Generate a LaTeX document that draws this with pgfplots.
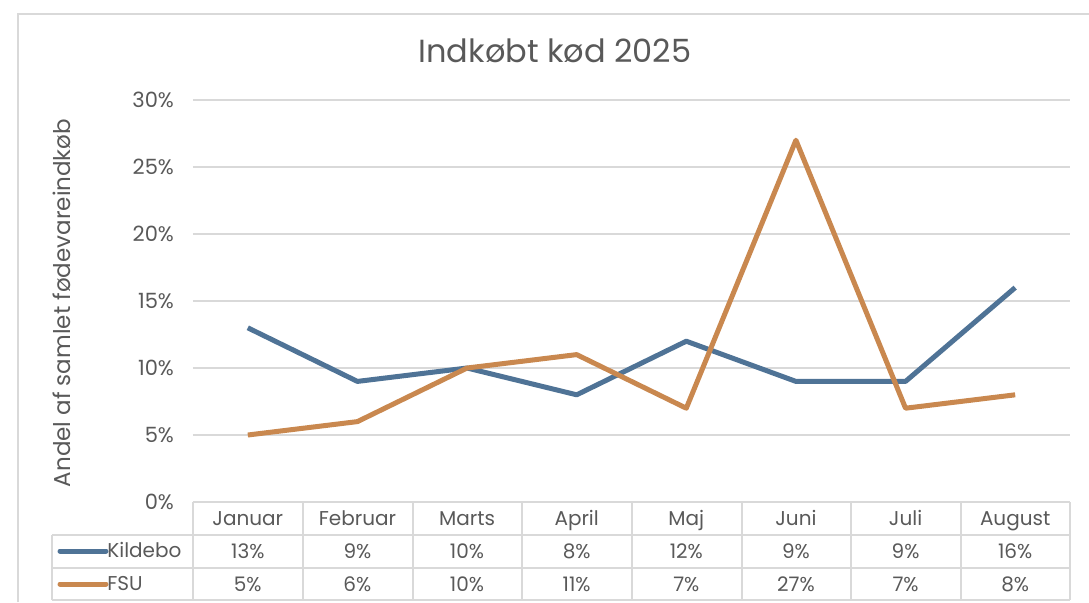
\documentclass[border=0pt]{standalone}
\usepackage{pgfplots}
\pgfplotsset{compat=1.18}
\usepackage{fontspec}
\setmainfont{Poppins}
\definecolor{kblue}{HTML}{4F7396}
\definecolor{forange}{HTML}{C9884F}
\definecolor{txt}{HTML}{595959}
\definecolor{gridc}{HTML}{D9D9D9}

\pgfplotstableread{
x kildebo fsu
0 13 5
1 9 6
2 10 10
3 8 11
4 12 7
5 9 27
6 9 7
7 16 8
}\kodtable

\begin{document}
\begin{tikzpicture}
% pixel grid: 1px = 0.5pt, y downwards
\begin{scope}[x=0.5pt,y=-0.5pt]
  \path[use as bounding box] (0,0) rectangle (1089,602);
  \draw[gridc,line width=0.6pt] (18,602) -- (18,14) -- (1089,14);
  \node[txt,font=\fontsize{16}{18}\selectfont] at (555,51) {Indkøbt kød 2025};
  \node[txt,rotate=90,font=\fontsize{11.5}{13}\selectfont] at (62,303) {Andel af samlet fødevareindkøb};
\end{scope}

\begin{axis}[
  at={(96.5pt,-251pt)}, anchor=south west,
  scale only axis, width=438.5pt, height=201pt,
  xmin=-0.5, xmax=7.5, ymin=0, ymax=30,
  ytick={0,5,...,30}, xtick=\empty,
  yticklabel={\pgfmathprintnumber{\tick}\%},
  /pgf/number format/assume math mode=true,
  yticklabel style={txt,font=\fontsize{10.5}{12}\selectfont,xshift=-6pt},
  axis line style={draw=none}, major tick style={draw=none},
  ymajorgrids, grid style={gridc,line width=0.6pt},
  clip=false,
]
  \addplot[kblue,line width=2.5pt,line join=round] table[x=x,y=kildebo] {\kodtable};
  \addplot[forange,line width=2.5pt,line join=round] table[x=x,y=fsu] {\kodtable};
\end{axis}

\begin{scope}[x=0.5pt,y=-0.5pt,
  cell/.style={txt,font=\fontsize{10}{12}\selectfont,text height=1.6ex,text depth=0.4ex,inner sep=0pt}]
  \def\colx{{193,303,413,522,632,742,851,961,1070}}
  \draw[gridc,line width=0.6pt] (193,502) -- (1070,502);
  \draw[gridc,line width=0.6pt] (52,535) -- (1070,535);
  \draw[gridc,line width=0.6pt] (52,568) -- (1070,568);
  \draw[gridc,line width=0.6pt] (52,600) -- (1070,600);
  \draw[gridc,line width=0.6pt] (52,535) -- (52,600);
  \foreach \i in {0,...,8} {
    \pgfmathsetmacro{\cx}{\colx[\i]}
    \draw[gridc,line width=0.6pt] (\cx,502) -- (\cx,600);
  }
  \draw[kblue,line width=2.5pt,line cap=round] (60,551) -- (106,551);
  \draw[forange,line width=2.5pt,line cap=round] (60,584) -- (106,584);
  \node[cell,anchor=west] at (107,551) {Kildebo};
  \node[cell,anchor=west] at (107,584) {FSU};
  \foreach \m/\k/\f [count=\j from 0] in {Januar/13/5,Februar/9/6,Marts/10/10,April/8/11,Maj/12/7,Juni/9/27,Juli/9/7,August/16/8} {
    \pgfmathsetmacro{\cx}{193+109.625*\j+54.8}
    \node[cell] at (\cx,519) {\m};
    \node[cell] at (\cx,552) {\k\%};
    \node[cell] at (\cx,585) {\f\%};
  }
\end{scope}
\end{tikzpicture}
\end{document}
